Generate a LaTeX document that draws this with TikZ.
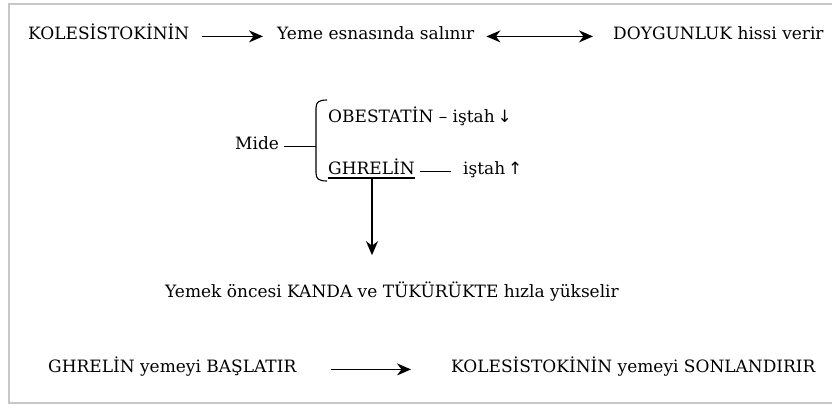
\documentclass[tikz,border=0pt]{standalone}
\usepackage{fontspec}
\setmainfont{DejaVu Serif}
\newfontfamily\symfont{DejaVu Sans}
\usetikzlibrary{arrows.meta,calc}
\begin{document}
\begin{tikzpicture}[x=1pt,y=-1pt,
  txt/.style={inner sep=0pt,anchor=base west,font=\fontsize{17}{20}\selectfont},
  arr/.style={line width=1.4pt,-{Stealth[length=14pt,width=12pt,inset=4.5pt]}},
  darr/.style={line width=1.4pt,{Stealth[length=14pt,width=12pt,inset=4.5pt]}-{Stealth[length=14pt,width=12pt,inset=4.5pt]}},
  ln/.style={line width=1.1pt},
  frame/.style={draw=black!22,line width=1.5pt}]
\useasboundingbox (0,0) rectangle (832,408);
\draw[frame] (840,4) -- (9,4) -- (9,403) -- (840,403);
% row 1
\node[txt] (kol) at (28,39) {KOLESİSTOKİNİN};
\node[txt] (yeme) at (277,39) {Yeme esnasında salınır};
\node[txt] (doy) at (613,39) {DOYGUNLUK hissi verir};
\draw[arr] ([xshift=13pt]kol.mid east) -- ([xshift=-14pt]yeme.mid west);
\draw[darr] ([xshift=12pt]yeme.mid east) -- ([xshift=-20pt]doy.mid west);
% Mide block
\node[txt] (mide) at (235,149) {Mide};
\coordinate (brk) at (316,140);
\draw[ln] ([xshift=5pt]mide.mid east) -- (mide.mid east -| brk);
\draw[ln] (327,100) .. controls (319,100) and (316,102) .. (316,108) -- (316,173) .. controls (316,179) and (319,181) .. (327,181);
\node[txt] (obe) at (328,122) {OBESTATİN – iştah\,{\symfont ↓}};
\node[txt] (ghr) at (328,174) {GHRELİN};
\node[txt] (ist) at (463,174) {iştah\,{\symfont ↑}};
\draw[ln] ([yshift=-4pt]ghr.base west) -- ([yshift=-4pt]ghr.base east);
\draw[ln] ([xshift=5pt]ghr.mid east) -- ([xshift=-12pt]ist.mid west);
\coordinate (ul) at (372,178);
\node[txt] (yem) at (165,297) {Yemek öncesi KANDA ve TÜKÜRÜKTE hızla yükselir};
\draw[arr] (ul) -- ([yshift=26pt]yem.north -| ul);
% bottom row
\node[txt] (g2) at (48,372) {GHRELİN yemeyi BAŞLATIR};
\node[txt] (k2) at (451,372) {KOLESİSTOKİNİN yemeyi SONLANDIRIR};
\draw[arr] ([xshift=35pt]g2.mid east) -- ([xshift=-40pt]k2.mid west);
\end{tikzpicture}
\end{document}
